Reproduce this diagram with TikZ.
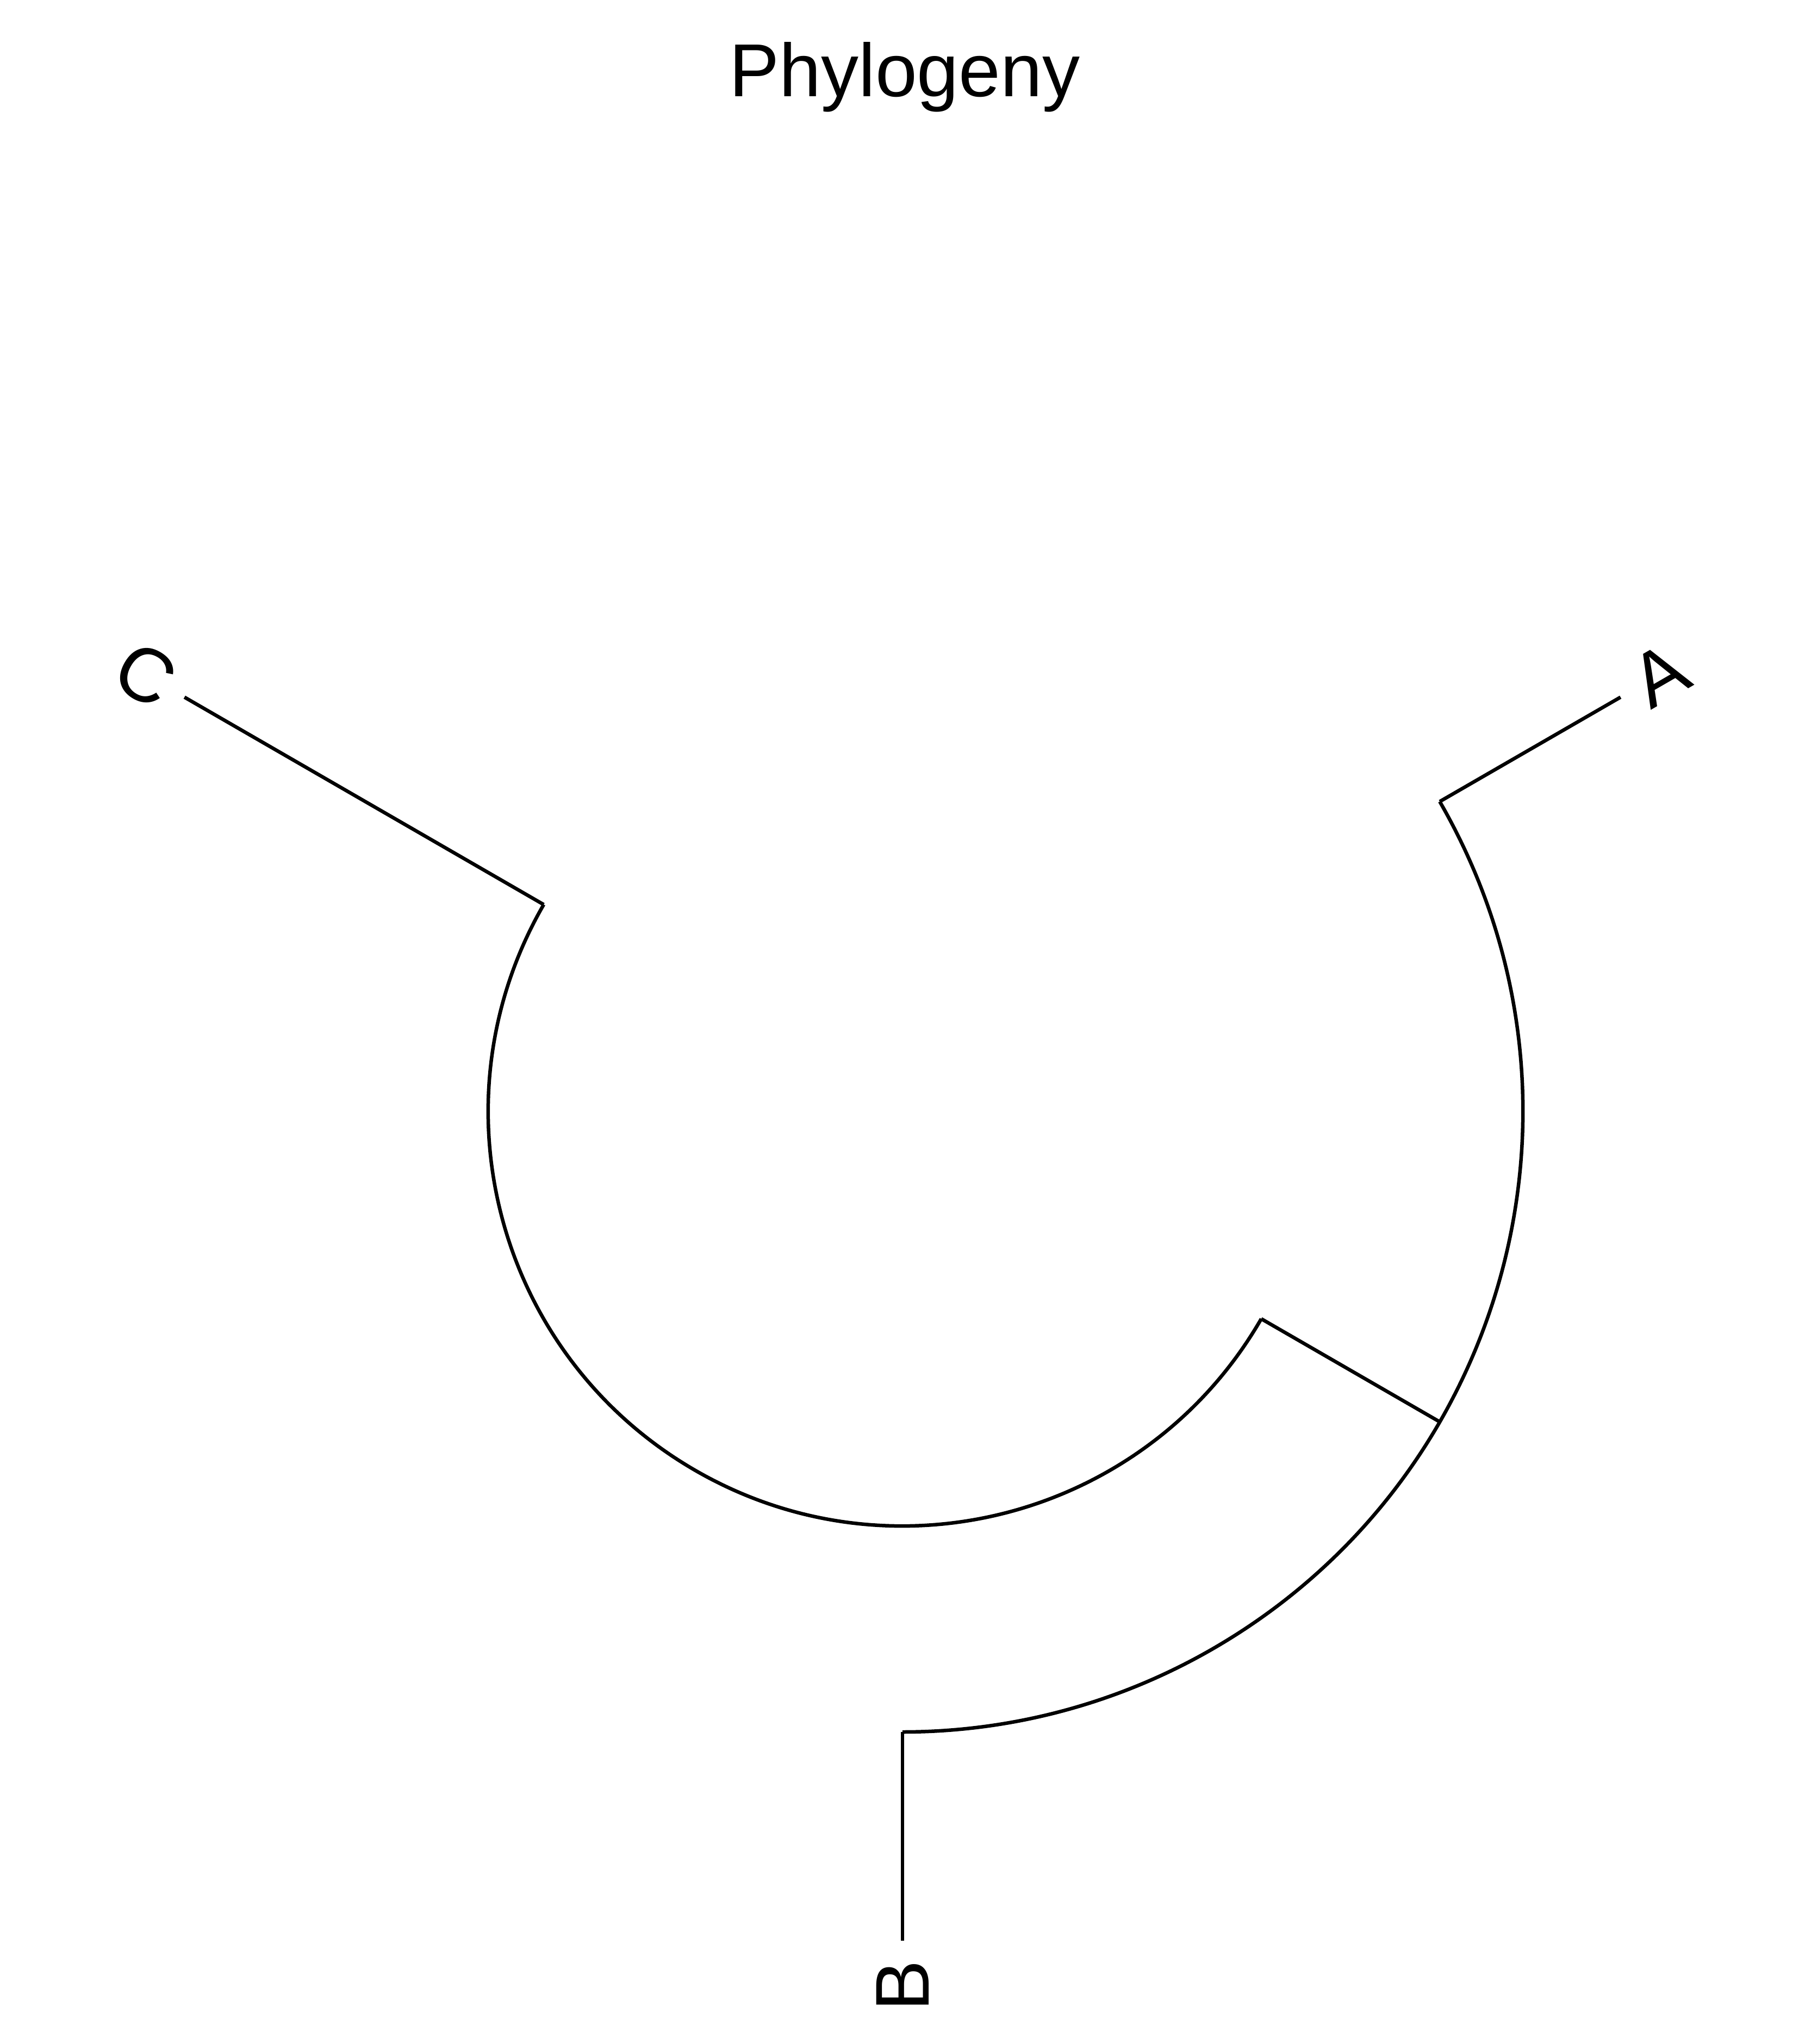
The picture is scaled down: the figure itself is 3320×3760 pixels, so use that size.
\documentclass[tikz,border=0pt]{standalone}
\usepackage{fontspec}
\setmainfont{Liberation Sans}
\usetikzlibrary{positioning}
\tikzset{every path/.style={line width=0.65pt},
         title/.style={font=\fontsize{13.8}{16}\selectfont, anchor=base, inner sep=0pt},
         tiplabel/.style={font=\fontsize{14}{16}\selectfont, inner sep=0pt}}

\begin{document}
\begin{tikzpicture}[x=0.1pt, y=0.1pt]

	\useasboundingbox (-1660,-1715) rectangle (1660,2045);
	\node[title] (title) at (4,1867) {Phylogeny};

	\coordinate (root) at (0,0);
	\coordinate (c0)  at (150:762);
	\coordinate (ab0) at (-30:762);
	\coordinate (ab1) at (-30:1141);
	\coordinate (a0)  at (30:1141);
	\coordinate (b0)  at (-90:1141);

	\draw (c0) arc[start angle=150, end angle=330, radius=762];
	\draw (ab0) -- (ab1);
	\draw (a0) arc[start angle=30, end angle=-90, radius=1141];

	\foreach \leaf/\ang/\rot in {a/30/30, b/270/90, c/150/-30}
	  {
	    \coordinate (\leaf1) at (\ang:1525);
	    \draw (\leaf0) -- (\leaf1);
	  }

	\node[tiplabel, rotate=30]  (A) at (30:1608)  {A};
	\node[tiplabel, rotate=90]  (B) at (270:1608) {B};
	\node[tiplabel, rotate=-30] (C) at (150:1608) {C};

\end{tikzpicture}
\end{document}
